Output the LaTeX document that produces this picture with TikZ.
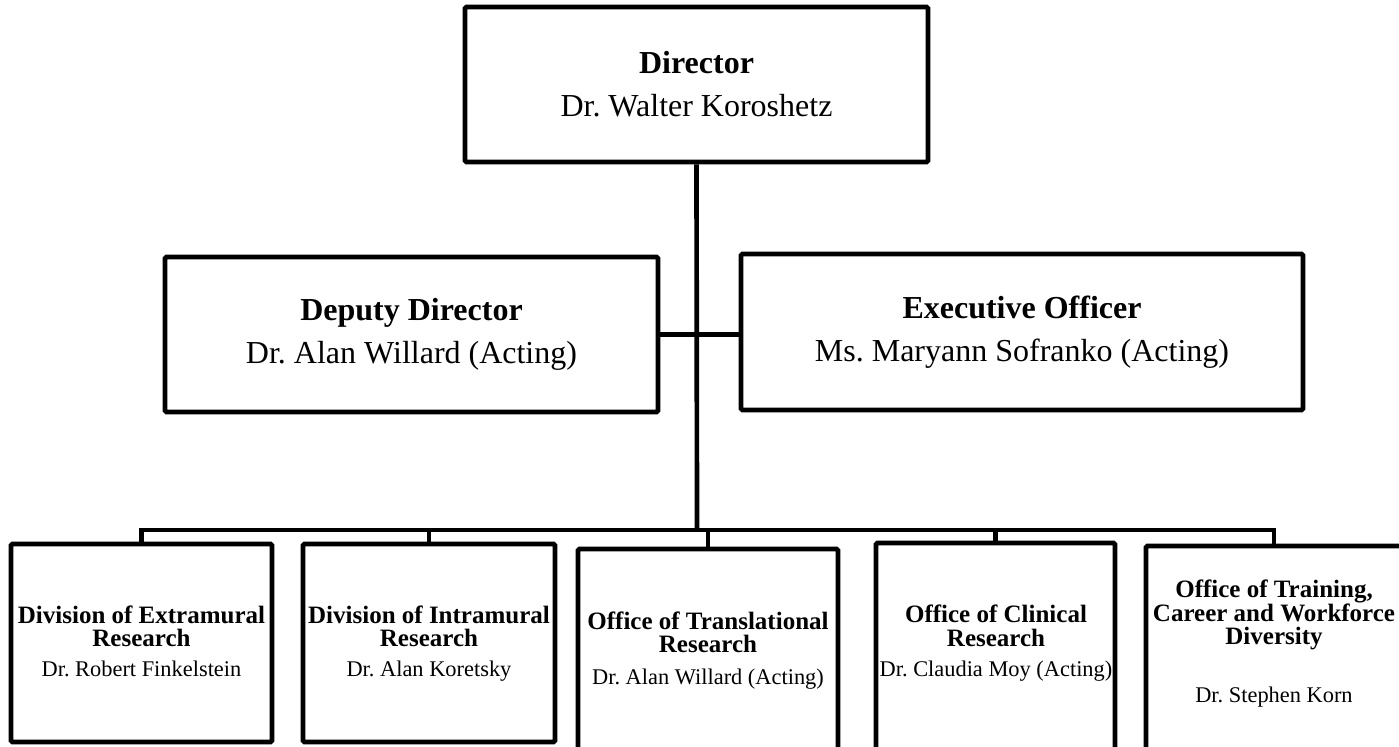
\documentclass[tikz,border=0pt]{standalone}
\usepackage{fontspec}
\setmainfont{Liberation Serif}
\frenchspacing
\begin{document}
\begin{tikzpicture}[x=0.75pt,y=-0.75pt,
  boxst/.style={draw=black,line width=3.5pt,rounded corners=1pt,inner sep=0pt,fill=white},
  topbox/.style={boxst,align=center,font=\fontsize{24}{32.25}\selectfont\frenchspacing},
  conn/.style={draw=black,line width=3.5pt},
  ttl/.style={align=center,inner sep=0pt,font=\bfseries\fontsize{18.75}{17.6}\selectfont\frenchspacing},
  nme/.style={inner sep=0pt,text height=0.7em,text depth=0pt,font=\fontsize{16.8}{18}\selectfont\frenchspacing}]
\useasboundingbox (0,0) rectangle (1399,746);
\clip (0,0) rectangle (1399,746);
\fill[white] (0,0) rectangle (1399,746);

% top level
\node[topbox,minimum width=347.25pt,minimum height=116.25pt] (dir) at (696.5,84.5)
  {\textbf{Director}\\Dr. Walter Koroshetz};
\node[topbox,minimum width=369.75pt,minimum height=116.25pt] (dep) at (411.5,334.5)
  {\textbf{Deputy Director}\\Dr. Alan Willard (Acting)};
\node[topbox,minimum width=421.5pt,minimum height=117pt] (exe) at (1022,332)
  {\textbf{Executive Officer}\\Ms. Maryann Sofranko (Acting)};

% bottom boxes
\node[boxst,minimum width=195.75pt,minimum height=148.5pt] (b1) at (141.5,643) {};
\node[boxst,minimum width=189pt,minimum height=148.5pt] (b2) at (429,643) {};
\node[boxst,minimum width=195pt,minimum height=165.75pt] (b3) at (708,659.5) {};
\node[boxst,minimum width=179.25pt,minimum height=170.25pt] (b4) at (995.5,656.5) {};
\node[boxst,minimum width=192pt,minimum height=168pt] (b5) at (1274,658) {};

% texts of bottom boxes
\node[ttl] (b1t) at (141.5,626.5) {Division of Extramural\\Research};
\node[nme] (b1n) at (141.5,672) {Dr. Robert Finkelstein};
\node[ttl] (b2t) at (429,626.5) {Division of Intramural\\Research};
\node[nme] (b2n) at (429,672) {Dr. Alan Koretsky};
\node[ttl] (b3t) at (708,632.5) {Office of Translational\\Research};
\node[nme] (b3n) at (708,680) {Dr. Alan Willard (Acting)};
\node[ttl] (b4t) at (996,626) {Office of Clinical\\Research};
\node[nme] (b4n) at (996,672) {Dr. Claudia Moy (Acting)};
\node[ttl] (b5t) at (1274,615) {Office of Training,\\Career and Workforce\\Diversity};
\node[nme] (b5n) at (1274,698) {Dr. Stephen Korn};

% connectors
\coordinate (bus) at (697,530);
\draw[conn] (dir.south) -- (bus);
\draw[conn] (dep.east) -- (dep.east -| exe.west);
\draw[conn] (bus) -| (b1.north);
\draw[conn] (bus) -| (b2.north);
\draw[conn] (bus) -| (b3.north);
\draw[conn] (bus) -| (b4.north);
\draw[conn] (bus) -| (b5.north);
\end{tikzpicture}
\end{document}
